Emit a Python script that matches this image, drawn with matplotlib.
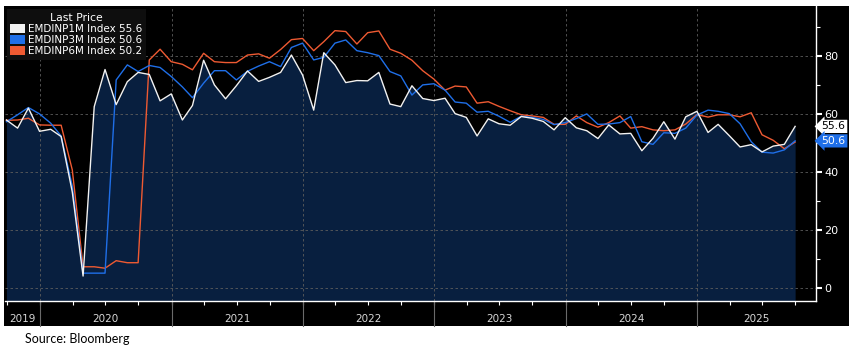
import pandas as pd
import matplotlib.pyplot as plt
import matplotlib.transforms as mtransforms
import matplotlib.dates as mdates
from matplotlib.patches import Patch, Rectangle

# Monthly readings, Sep 2019 .. Sep 2025
dates = pd.date_range("2019-09-30", "2025-09-30", freq="ME")

emdinp_1m = [57.8, 55.0, 61.9, 53.9,
             54.6, 52.1, 33.0, 4.0, 62.4, 75.2, 63.1, 71.0, 74.2, 73.5, 64.4, 66.8,
             57.8, 62.8, 78.4, 69.9, 65.1, 69.6, 74.7, 71.1, 72.5, 74.2, 80.2, 73.3,
             61.2, 81.0, 76.8, 70.7, 71.4, 71.3, 74.2, 63.3, 62.4, 69.6, 65.2, 64.5,
             65.3, 60.0, 58.7, 52.3, 58.2, 56.5, 56.0, 59.0, 58.4, 57.3, 54.4, 58.6,
             55.1, 54.1, 51.4, 56.1, 53.0, 53.2, 47.2, 51.5, 57.2, 51.2, 58.9, 60.8,
             53.5, 56.3, 52.4, 48.5, 49.3, 46.8, 48.8, 49.4, 55.6]
emdinp_3m = [57.2, 59.6, 62.1, 59.9,
             56.7, 52.3, 35.0, 5.0, 5.0, 5.0, 71.6, 76.8, 74.5, 76.6, 75.9, 72.8,
             69.2, 65.5, 70.5, 74.8, 74.8, 71.6, 74.6, 76.4, 77.9, 76.2, 82.8, 84.3,
             78.5, 79.4, 84.3, 85.4, 81.7, 81.0, 80.0, 74.5, 73.0, 66.4, 69.9, 70.3,
             68.1, 64.0, 63.6, 60.5, 60.8, 59.1, 57.0, 59.1, 58.7, 58.0, 56.2, 56.9,
             58.3, 59.9, 56.3, 56.4, 56.9, 59.0, 50.3, 49.4, 53.4, 53.2, 55.0, 59.5,
             61.2, 60.8, 60.0, 56.5, 50.3, 46.7, 46.4, 47.5, 50.6]
emdinp_6m = [57.7, 57.8, 58.4, 56.1,
             56.0, 56.0, 40.6, 7.2, 7.2, 6.7, 9.3, 8.6, 8.6, 78.5, 82.2, 77.9,
             77.0, 75.1, 80.8, 77.9, 77.6, 77.6, 80.2, 80.6, 79.1, 82.1, 85.5, 85.9,
             81.7, 84.8, 88.6, 88.3, 84.0, 87.9, 88.5, 82.2, 80.8, 78.4, 74.8, 71.9,
             68.1, 69.5, 69.2, 63.6, 64.1, 62.5, 61.0, 59.6, 59.2, 58.7, 56.3, 56.3,
             59.2, 56.9, 55.3, 56.9, 59.2, 55.0, 55.5, 54.4, 54.1, 54.4, 56.4, 59.7,
             58.8, 59.6, 59.6, 58.9, 60.3, 52.7, 50.8, 47.9, 50.2]

labels = ["EMDINP1M Index", "EMDINP3M Index", "EMDINP6M Index"]
colors = ["#f2f2f2", "#1f6fe8", "#ee5a32"]
years = [2019, 2020, 2021, 2022, 2023, 2024, 2025]
y_ticks = [0, 20, 40, 60, 80]

W, H = 855, 348
fig = plt.figure(figsize=(W / 100, H / 100), dpi=100, facecolor="white")

# black terminal-style panel behind everything
fig.patches.append(Rectangle((4 / W, 1 - 326 / H), 845 / W, 320 / H,
                             transform=fig.transFigure, facecolor="black",
                             edgecolor="none", zorder=-10))

ax = fig.add_axes([5 / W, 1 - 301 / H, 811 / W, 295 / H], facecolor="black")

x_lo = pd.Timestamp("2019-09-26")
x_hi = pd.Timestamp("2025-11-27")
ax.set_xlim(x_lo, x_hi)
ax.set_ylim(-4.6, 97.1)

# grid
for v in y_ticks:
    ax.axhline(v, color="#5c5c5c", lw=0.6, ls=(0, (3, 3)), zorder=1.5)
for y in years[1:]:
    ax.axvline(pd.Timestamp(f"{y}-01-01"), color="#5c5c5c", lw=0.6,
               ls=(0, (3, 3)), zorder=1.5)

ax.fill_between(dates, emdinp_1m, -4.6, color="#081f3f", lw=0, zorder=1)

series = [emdinp_1m, emdinp_3m, emdinp_6m]
for vals, lab, c, z in zip(series, labels, colors, [4, 3, 2]):
    ax.plot(dates, vals, color=c, lw=1.0, zorder=z)

# axes styling
for s in ["top", "left"]:
    ax.spines[s].set_visible(False)
for s in ["right", "bottom"]:
    ax.spines[s].set_color("white")
    ax.spines[s].set_linewidth(1.0)

ax.yaxis.tick_right()
ax.set_yticks(y_ticks)
ax.set_yticks([10, 30, 50, 70, 90], minor=True)
ax.tick_params(axis="y", which="major", colors="white", labelsize=8,
               length=4, width=1.5, pad=2)
ax.tick_params(axis="y", which="minor", colors="white", length=3, width=0.8)

ax.xaxis.set_major_locator(mdates.MonthLocator(bymonth=[1, 4, 7, 10]))
ax.xaxis.set_major_formatter(plt.NullFormatter())
ax.tick_params(axis="x", which="major", colors="white", length=3, width=0.8,
               direction="out")

# year labels and separators below the axis
trans = mtransforms.blended_transform_factory(ax.transData, ax.transAxes)
for y in years:
    start = max(pd.Timestamp(f"{y}-01-01"), x_lo)
    end = min(pd.Timestamp(f"{y + 1}-01-01"), x_hi)
    mid = start + (end - start) / 2
    ax.text(mid, -0.062, str(y), transform=trans, ha="center", va="center",
            color="#d8d8d8", fontsize=7.5)
    if y > 2019:
        ax.plot([pd.Timestamp(f"{y}-01-01")] * 2, [0, -0.085], transform=trans,
                color="#6a6a6a", lw=0.8, clip_on=False)

# last value badges on the right
badge = mtransforms.blended_transform_factory(ax.transAxes, ax.transData)
ax.text(1.007, emdinp_1m[-1], f"{emdinp_1m[-1]:.1f}", transform=badge,
        ha="left", va="center", fontsize=7.8, color="black",
        bbox=dict(boxstyle="larrow,pad=0.15", fc="white", ec="none"))
ax.text(1.007, emdinp_3m[-1], f"{emdinp_3m[-1]:.1f}", transform=badge,
        ha="left", va="center", fontsize=7.8, color="white",
        bbox=dict(boxstyle="larrow,pad=0.15", fc=colors[1], ec="none"))

# legend
last = [emdinp_1m[-1], emdinp_3m[-1], emdinp_6m[-1]]
handles = [Patch(facecolor=c, edgecolor="none", label=f"{lab} {v:.1f}")
           for lab, c, v in zip(labels, colors, last)]
leg = ax.legend(handles=handles, title="Last Price", loc="upper left",
                bbox_to_anchor=(0.0, 0.995), fontsize=7.5, title_fontsize=7.8,
                frameon=True, facecolor="#0e0e0e", edgecolor="none",
                framealpha=1, fancybox=False, borderpad=0.35, labelspacing=0.08,
                handlelength=1.4, handleheight=1.0, handletextpad=0.3,
                borderaxespad=0.15)
for t in leg.get_texts():
    t.set_color("white")
leg.get_title().set_color("white")
leg.set_zorder(6)

fig.text(25 / W, 1 - 339 / H, "Source: Bloomberg", fontsize=9,
         family="Lato", color="black", va="center", ha="left")

fig.savefig("out.png", dpi=100, facecolor="white")
